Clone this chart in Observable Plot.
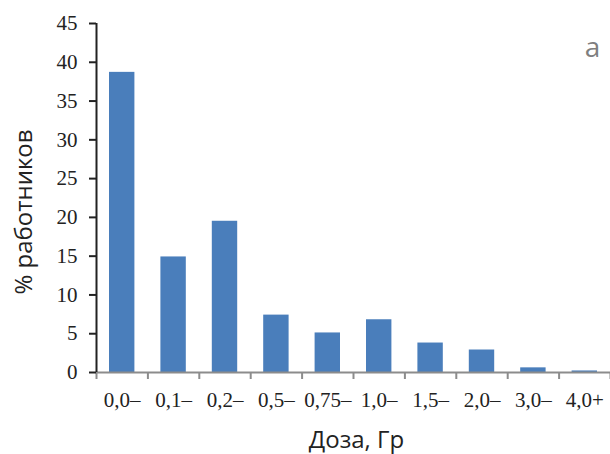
<!DOCTYPE html>
<html>
<head>
<meta charset="utf-8">
<script src="https://cdn.jsdelivr.net/npm/d3@7"></script>
<script src="https://cdn.jsdelivr.net/npm/@observablehq/plot@0.6"></script>
<style>
  html, body { margin: 0; padding: 0; background: #fff; }
  #chart svg { display: block; }
</style>
</head>
<body>
<div id="chart"></div>
<script>
const categories = ["0,0–", "0,1–", "0,2–", "0,5–", "0,75–", "1,0–", "1,5–", "2,0–", "3,0–", "4,0+"];
const values = [38.7, 14.9, 19.5, 7.4, 5.1, 6.8, 3.8, 2.9, 0.6, 0.2];
const yTicks = [0, 5, 10, 15, 20, 25, 30, 35, 40, 45];
const xTitle = "Доза, Гр";
const yTitle = "% работников";
const panelLabel = "а";

const table = categories.map((c, i) => ({cat: c, i, value: values[i]}));
const boundaries = d3.range(categories.length + 1);
const centers = table.map(d => d.i + 0.5);

const serif = "'Liberation Serif', 'Times New Roman', serif";
const sans = "'Open Sans', 'Noto Sans', sans-serif";

const chart = Plot.plot({
  width: 610,
  height: 454,
  marginLeft: 96,
  marginRight: 0,
  marginTop: 23,
  marginBottom: 82,
  style: {background: "#fff", color: "#222"},
  x: {domain: [0, categories.length], axis: null},
  y: {domain: [0, 45], axis: null},
  marks: [
    Plot.rect(table, {x1: "i", x2: d => d.i + 1, y1: 0, y2: "value", fill: "#4a7ebb", insetLeft: 13, insetRight: 13}),
    Plot.ruleY([0], {stroke: "#8c8c8c", strokeWidth: 2}),
    Plot.axisX(boundaries, {tickSize: 7, tickFormat: () => "", stroke: "#8c8c8c", strokeWidth: 2, label: null}),
    Plot.axisX(centers, {tickSize: 0, tickPadding: 19.5, tickFormat: v => categories[Math.floor(v)], fontSize: 21, fontFamily: serif, fill: "#222", label: null}),
    Plot.ruleX([0], {y1: 0, y2: 45, stroke: "#222", strokeWidth: 2}),
    Plot.axisY(yTicks, {tickSize: 7, tickPadding: 12, strokeWidth: 2, stroke: "#222", fontSize: 21, fontFamily: serif, fill: "#222", label: null}),
    Plot.text([yTitle], {frameAnchor: "left", textAnchor: "middle", lineAnchor: "middle", rotate: -90, dx: -72, dy: 14, fontSize: 24, fontFamily: sans, fill: "#222"}),
    Plot.text([xTitle], {frameAnchor: "bottom", textAnchor: "middle", lineAnchor: "middle", dx: 3, dy: 67.5, fontSize: 24, fontFamily: sans, fill: "#222"}),
    Plot.text([panelLabel], {frameAnchor: "top-right", textAnchor: "middle", lineAnchor: "middle", dx: -18, dy: 25, fontSize: 28, fontFamily: sans, fill: "#7f7f7f"})
  ]
});
document.getElementById("chart").appendChild(chart);
</script>
</body>
</html>
